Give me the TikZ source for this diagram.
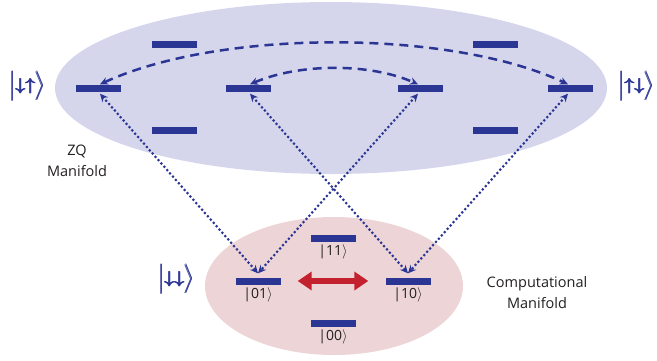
\documentclass[tikz,border=0pt]{standalone}
\usepackage{amsmath,amssymb}
\usepackage{fontspec}
\setsansfont{Open Sans}
\usepackage{tikz}
\usetikzlibrary{arrows.meta,positioning}
\definecolor{Navy}{HTML}{2B3594}
\definecolor{Lavender}{HTML}{D5D6EB}
\definecolor{Blush}{HTML}{EDD5D7}
\definecolor{Crimson}{HTML}{C4212E}
\definecolor{Ink}{HTML}{231F20}

\tikzset{
  lvl/.style={fill=Navy,minimum width=45pt,minimum height=7pt,inner sep=0pt},
  ket/.style={text=Ink,font=\sffamily\fontsize{14}{16}\selectfont,inner sep=1pt},
  spinket/.style={text=Navy,font=\fontsize{16}{19}\selectfont\boldmath,inner sep=0pt},
  manifold/.style={text=Ink,font=\sffamily\fontsize{14.5}{21}\selectfont,align=center},
  dasharc/.style={Navy,line width=2.5pt,dash pattern=on 9pt off 6pt,
                  {Stealth[length=8pt,width=7.5pt]}-{Stealth[length=8pt,width=7.5pt]}},
  dotlink/.style={Navy,line width=3pt,line cap=round,dash pattern=on 0pt off 4.4pt,
                  {Stealth[length=8pt,width=7.5pt]}-{Stealth[length=8pt,width=7.5pt]}},
  swaparrow/.style={Crimson,line width=6pt,
                  {Triangle[length=14pt,width=18pt]}-{Triangle[length=14pt,width=18pt]}}
}

\begin{document}
\begin{tikzpicture}[x=1pt,y=-1pt]
  \useasboundingbox (0,0) rectangle (657,360);
  % manifolds
  \fill[Lavender] (331,88) ellipse [x radius=276,y radius=86];
  \fill[Blush] (334,286) ellipse [x radius=129,y radius=69];

  % ZQ levels
  \node[lvl] (zq1) at (98,88) {};
  \node[lvl] (zq2) at (248,88) {};
  \node[lvl] (zq3) at (420,88) {};
  \node[lvl] (zq4) at (570,88) {};
  \node[lvl] (zqa) at (174,44) {};
  \node[lvl] (zqb) at (174,130) {};
  \node[lvl] (zqc) at (495,44) {};
  \node[lvl] (zqd) at (495,130) {};

  % computational levels
  \node[lvl] (c01) at (258,281) {};
  \node[lvl] (c10) at (408,281) {};
  \node[lvl] (c11) at (333,238) {};
  \node[lvl] (c00) at (333,323) {};
  \node[ket,below=2pt of c01] {|01$\rangle$};
  \node[ket,below=2pt of c10] {|10$\rangle$};
  \node[ket,below=2pt of c11] {|11$\rangle$};
  \node[ket,below=2pt of c00] {|00$\rangle$};

  % spin labels
  \node[spinket] (du) at (28,86) {$\pmb{\Bigl|{\downarrow\uparrow}\Bigr\rangle}$};
  \node[spinket] (ud) at (637,86) {$\pmb{\Bigl|{\uparrow\downarrow}\Bigr\rangle}$};
  \node[spinket] (dd) at (177,279) {$\pmb{\Bigl|{\downarrow\downarrow}\Bigr\rangle}$};

  \node[manifold] (zqlab) at (77,161) {ZQ\\Manifold};
  \node[manifold] (complab) at (537,293) {Computational\\Manifold};

  % couplings
  \draw[dasharc] ([xshift=2pt]zq1.north) .. controls (220,29) and (450,29) .. ([xshift=-2pt]zq4.north);
  \draw[dasharc] ([xshift=2pt]zq2.north) .. controls (300,63) and (370,63) .. ([xshift=-2pt]zq3.north);
  \draw[dotlink] ([xshift=2pt,yshift=-2pt]zq1.south) -- ([yshift=4pt]c01.north);
  \draw[dotlink] ([xshift=-2pt,yshift=-2pt]zq3.south) -- ([yshift=4pt]c01.north);
  \draw[dotlink] ([xshift=2pt,yshift=-2pt]zq2.south) -- ([yshift=4pt]c10.north);
  \draw[dotlink] ([xshift=-2pt,yshift=-2pt]zq4.south) -- ([yshift=4pt]c10.north);
  \draw[swaparrow,shorten <=17pt,shorten >=17pt] (c01.east) -- (c10.west);
\end{tikzpicture}
\end{document}
